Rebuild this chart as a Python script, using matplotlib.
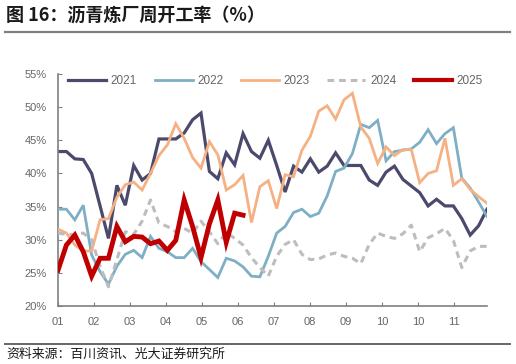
import matplotlib
matplotlib.use("Agg")
import matplotlib.pyplot as plt
from matplotlib.lines import Line2D
import numpy as np

plt.rcParams['font.family'] = ['Noto Sans CJK SC', 'DejaVu Sans']

years = ['2021', '2022', '2023', '2024', '2025']

y2021 = [43.3, 43.3, 42.2, 42.1, 40.0, 35.1, 30.2, 38.2, 35.2, 41.2,
         39.0, 40.0, 45.2, 45.2, 45.2, 46.1, 48.1, 49.1, 40.3, 39.2,
         43.1, 41.3, 46.0, 43.3, 42.3, 45.0, 41.2, 37.2, 41.1, 40.2,
         42.2, 40.2, 41.1, 43.1, 41.2, 41.2, 41.2, 39.0, 38.2, 40.2,
         41.1, 39.1, 38.1, 37.1, 35.1, 36.1, 35.1, 35.1, 33.2, 30.7,
         32.1, 34.6]
y2022 = [34.6, 34.6, 33.0, 35.2, 27.7, 25.2, 23.3, 26.0, 27.8, 28.4,
         27.3, 30.5, 28.7, 28.2, 27.3, 27.3, 28.7, 26.7, 25.5, 24.3,
         27.2, 26.8, 25.9, 24.5, 24.4, 27.5, 31.0, 32.0, 34.1, 34.6,
         33.5, 34.0, 36.6, 40.3, 40.8, 43.0, 47.4, 46.9, 48.0, 41.9,
         43.3, 43.5, 43.7, 44.7, 46.6, 44.5, 46.0, 46.9, 39.3, 37.8,
         35.7, 33.5]
y2023 = [31.6, 31.0, 29.2, 28.3, 28.3, 33.0, 33.2, 36.4, 38.3, 38.7,
         37.5, 40.0, 42.7, 44.3, 47.5, 45.3, 42.4, 40.8, 44.8, 42.8,
         37.5, 38.3, 39.7, 32.6, 38.0, 38.9, 34.7, 39.8, 39.5, 43.5,
         45.6, 49.4, 50.2, 48.2, 51.1, 52.1, 47.0, 45.3, 41.5, 44.0,
         42.7, 43.6, 43.6, 38.6, 40.0, 40.4, 45.3, 38.2, 39.2, 37.6,
         36.5, 35.5]
y2024 = [31.0, 30.8, 30.8, 31.0, 30.0, 26.0, 22.9, 27.0, 31.2, 30.8,
         32.8, 36.0, 32.5, 32.0, 31.2, 31.7, 31.0, 32.8, 31.2, 29.4,
         31.1, 30.2, 29.2, 27.3, 25.8, 24.5, 27.5, 29.3, 30.0, 27.8,
         27.0, 27.1, 27.7, 28.0, 27.5, 27.2, 26.4, 29.3, 31.0, 30.5,
         30.2, 30.9, 32.2, 28.2, 30.3, 30.9, 31.7, 29.9, 25.8, 28.3,
         29.0, 29.0]
y2025 = [25.4, 29.2, 30.7, 28.2, 24.5, 27.2, 27.2, 32.0, 29.7, 30.5,
         30.4, 29.4, 29.8, 28.4, 29.9, 36.0, 32.0, 27.3, 32.4, 36.0,
         29.6, 34.0, 33.7]

tick_labels = ['01', '02', '03', '04', '05', '06', '07', '08', '09', '10', '10', '11']
yticks = [20, 25, 30, 35, 40, 45, 50, 55]

fig = plt.figure(figsize=(5.16, 3.64), dpi=100)
ax = fig.add_axes([58/516, 1-306/364, (487-58)/516, (306-74)/364])

series = [y2021, y2022, y2023, y2024, y2025]
colors = ['#4b4a6d', '#7eafc5', '#f5b183', '#bdbdbd', '#c00000']
widths = [2.3, 2.0, 2.0, 2.2, 3.5]
styles = ['-', '-', '-', (0, (2.2, 1.6)), '-']
order = [3, 1, 2, 0, 4]
for k in order:
    vals = series[k]
    ax.plot(np.arange(len(vals)), vals, color=colors[k], lw=widths[k],
            ls=styles[k], solid_joinstyle='miter', zorder=2 + k)

ax.set_xlim(0, 51)
ax.set_ylim(20, 55)
ax.set_yticks(yticks)
ax.set_yticklabels([f'{v}%' for v in yticks])
tick_pos = np.arange(len(tick_labels)) * 4.28
ax.set_xticks(tick_pos)
ax.set_xticklabels(tick_labels)
for s in ['top', 'right']:
    ax.spines[s].set_visible(False)
for s in ['left', 'bottom']:
    ax.spines[s].set_color('#808080')
    ax.spines[s].set_linewidth(1.2)
ax.tick_params(axis='both', direction='in', length=3, color='#808080',
               labelcolor='#666666', labelsize=8)
for lab in ax.get_xticklabels() + ax.get_yticklabels():
    lab.set_fontfamily(['Liberation Sans', 'DejaVu Sans'])
ax.tick_params(axis='x', pad=8)
ax.tick_params(axis='y', pad=8)

handles = [Line2D([0], [0], color=colors[k], lw=widths[k] if k != 4 else 3.0,
                  ls=styles[k]) for k in range(5)]
leg = ax.legend(handles, years, loc='upper center', bbox_to_anchor=(0.507, 1.04),
                ncol=5, frameon=False, handlelength=3.2, columnspacing=1.5,
                handletextpad=0.4, prop={'family': ['Liberation Sans'], 'size': 8.5})
for t in leg.get_texts():
    t.set_color('#666666')

fig.text(0.012, 1-15/364, '图 16：沥青炼厂周开工率（%）', fontsize=13,
         fontweight='bold', va='center', ha='left', color='#1a1a1a')
fig.add_artist(Line2D([5/516, 510/516], [1-32/364, 1-32/364], color='#808080', lw=1.6))
fig.add_artist(Line2D([5/516, 510/516], [1-343.5/364, 1-343.5/364], color='#666666', lw=1.4))
fig.text(0.012, 1-354/364, '资料来源：百川资讯、光大证券研究所', fontsize=9.3,
         va='center', ha='left', color='#1a1a1a')

fig.savefig('out.png', dpi=100)
